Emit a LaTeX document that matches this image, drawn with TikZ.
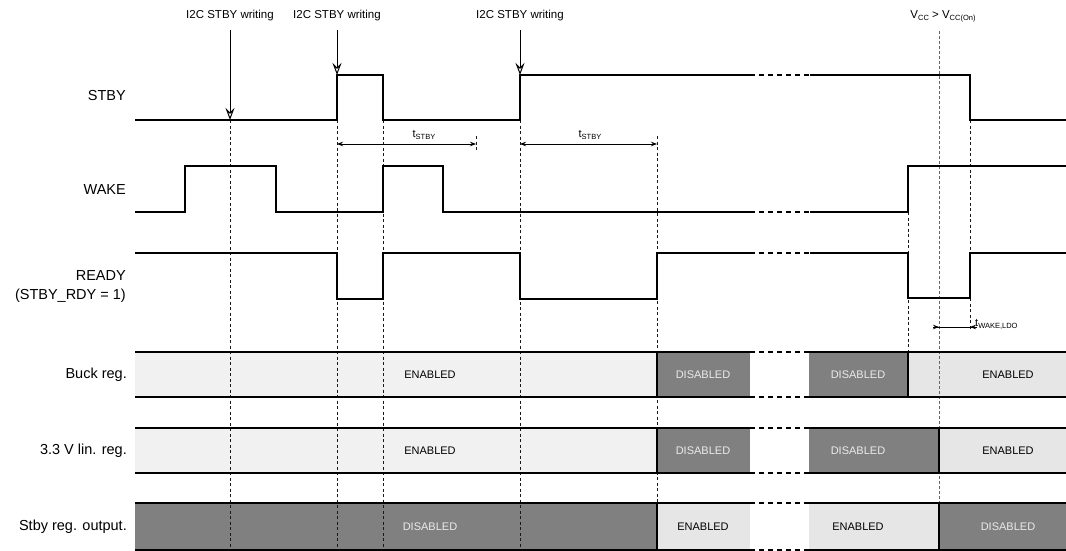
\documentclass[tikz,border=0pt]{standalone}
\usepackage{fontspec}
\setmainfont{Liberation Sans}
\usetikzlibrary{arrows.meta}
\definecolor{darkfill}{HTML}{808080}
\definecolor{lightA}{HTML}{F1F1F1}
\definecolor{lightB}{HTML}{E6E6E6}
\definecolor{distxt}{HTML}{EBEBEB}
\newcommand\mysub[1]{\raisebox{-0.35ex}{\fontsize{7.5}{8}\selectfont #1}}
\begin{document}
\begin{tikzpicture}[x=1pt,y=-1pt,
  sig/.style={line width=1.6pt, line join=miter},
  brk/.style={line width=1.6pt, dash pattern=on 5pt off 4pt},
  barline/.style={line width=1.5pt},
  barbrk/.style={line width=1.5pt, dash pattern=on 5pt off 4pt},
  guide/.style={line width=0.85pt, dash pattern=on 3pt off 2.5pt, black!90},
  vguide/.style={line width=0.9pt, dash pattern=on 3pt off 2pt, black!60},
  lab/.style={font=\fontsize{14.5}{19}\selectfont, anchor=east, align=right, inner sep=0},
  toplab/.style={font=\fontsize{11.5}{13}\selectfont, inner sep=0},
  entxt/.style={font=\fontsize{11}{13}\selectfont, inner sep=0, text=black},
  distext/.style={font=\fontsize{11}{13}\selectfont, inner sep=0, text=distxt},
  tlab/.style={font=\fontsize{11}{13}\selectfont, inner sep=0},
  i2c/.style={line width=0.8pt, -{Stealth[open, length=12pt, width=9pt, inset=4.5pt, line width=1pt]}},
  dim/.style={line width=0.8pt, {Stealth[length=6pt, width=4.5pt]}-{Stealth[length=6pt, width=4.5pt]}}
]
\useasboundingbox (0,0) rectangle (1066,551);

% ---------- regulator bars ----------
% Buck reg.
\fill[lightA] (135,352) rectangle (657,397);
\fill[darkfill] (657,352) rectangle (750,397);
\fill[darkfill] (809,352) rectangle (908,397);
\fill[lightB] (908,352) rectangle (1066,397);
% 3.3 V lin. reg.
\fill[lightA] (135,428) rectangle (657,473);
\fill[darkfill] (657,428) rectangle (750,473);
\fill[darkfill] (809,428) rectangle (939,473);
\fill[lightB] (939,428) rectangle (1066,473);
% Stby reg. output
\fill[darkfill] (135,503) rectangle (657,550);
\fill[lightB] (657,503) rectangle (750,550);
\fill[lightB] (809,503) rectangle (939,550);
\fill[darkfill] (939,503) rectangle (1066,550);

% ---------- guides ----------
\coordinate (g1t) at (230,120); \coordinate (g1b) at (230,550);
\coordinate (g2t) at (337,120); \coordinate (g2b) at (337,550);
\coordinate (g3t) at (383,120); \coordinate (g3b) at (383,550);
\coordinate (g4t) at (520,120); \coordinate (g4b) at (520,550);
\coordinate (g5t) at (657,136); \coordinate (g5b) at (657,550);
\coordinate (g6t) at (908,212); \coordinate (g6b) at (908,352);
\coordinate (g7t) at (939,31);  \coordinate (g7b) at (939,550);
\coordinate (g8t) at (970,120); \coordinate (g8b) at (970,253);
\coordinate (g9t) at (970,298); \coordinate (g9b) at (970,330);
\coordinate (g10t) at (476,136); \coordinate (g10b) at (476,152);
\draw[guide] (g1t) -- (g1b);
\draw[guide] (g2t) -- (g2b);
\draw[guide] (g3t) -- (g3b);
\draw[guide] (g4t) -- (g4b);
\draw[guide] (g5t) -- (g5b);
\draw[guide] (g6t) -- (g6b);
\draw[vguide] (g7t) -- (g7b);
\draw[guide] (g8t) -- (g8b);
\draw[guide] (g9t) -- (g9b);
\draw[guide] (g10t) -- (g10b);

% ---------- bar outlines ----------
\foreach \t/\b in {352/397, 428/473, 503/550}{
  \draw[barline] (135,\t) -- (750,\t) (809,\t) -- (1066,\t);
  \draw[barline] (135,\b) -- (750,\b) (809,\b) -- (1066,\b);
  \draw[barbrk] (750,\t) -- (809,\t);
  \draw[barbrk] (750,\b) -- (809,\b);
  \draw[barline] (657,\t) -- (657,\b);
}
\draw[barline] (908,352) -- (908,397);
\draw[barline] (939,428) -- (939,473);
\draw[barline] (939,503) -- (939,550);

% bar texts
\node[entxt] (b1) at (430,375) {ENABLED};
\node[distext] (b2) at (703,375) {DISABLED};
\node[distext] (b3) at (858,375) {DISABLED};
\node[entxt] (b4) at (1008,375) {ENABLED};
\node[entxt] (l1) at (430,451) {ENABLED};
\node[distext] (l2) at (703,451) {DISABLED};
\node[distext] (l3) at (858,451) {DISABLED};
\node[entxt] (l4) at (1008,451) {ENABLED};
\node[distext] (s1) at (430,527) {DISABLED};
\node[entxt] (s2) at (703,527) {ENABLED};
\node[entxt] (s3) at (858,527) {ENABLED};
\node[distext] (s4) at (1008,527) {DISABLED};

% ---------- waveforms ----------
% STBY
\draw[sig] (135,120) -- (337,120) -- (337,75) -- (383,75) -- (383,120) -- (520,120) -- (520,75) -- (750,75);
\draw[brk] (750,75) -- (810,75);
\draw[sig] (810,75) -- (970,75) -- (970,120) -- (1066,120);
% WAKE
\draw[sig] (135,212) -- (185,212) -- (185,166) -- (276,166) -- (276,212) -- (383,212) -- (383,166) -- (443,166) -- (443,212) -- (750,212);
\draw[brk] (750,212) -- (810,212);
\draw[sig] (810,212) -- (908,212) -- (908,166) -- (1066,166);
% READY
\draw[sig] (135,253) -- (337,253) -- (337,299) -- (383,299) -- (383,253) -- (520,253) -- (520,299) -- (657,299) -- (657,253) -- (750,253);
\draw[brk] (750,253) -- (810,253);
\draw[sig] (810,253) -- (908,253) -- (908,298) -- (970,298) -- (970,253) -- (1066,253);

% ---------- signal labels ----------
\node[lab] (Lstby) at (126,96) {STBY};
\node[lab] (Lwake) at (126,190) {WAKE};
\node[lab] (Lready) at (126,287) {READY\\(STBY\_RDY = 1)};
\node[lab] (Lbuck) at (127,375) {Buck reg.};
\node[lab] (Llin) at (127,451) {3.3 V lin. reg.};
\node[lab] (Lsby) at (127,527) {Stby reg. output.};

% ---------- I2C writing arrows ----------
\node[toplab] (w1) at (230,16) {I2C STBY writing};
\node[toplab] (w2) at (337,16) {I2C STBY writing};
\node[toplab] (w3) at (520,16) {I2C STBY writing};
\coordinate (a1s) at (230,30); \coordinate (a1e) at (230,120);
\coordinate (a2s) at (337,30); \coordinate (a2e) at (337,75);
\coordinate (a3s) at (520,30); \coordinate (a3e) at (520,75);
\draw[i2c] (a1s) -- (a1e);
\draw[i2c] (a2s) -- (a2e);
\draw[i2c] (a3s) -- (a3e);

\node[toplab] (vcc) at (943,16) {V\mysub{CC} > V\mysub{CC(On)}};

% ---------- timing dimensions ----------
\coordinate (d1a) at (337,144); \coordinate (d1b) at (476,144);
\coordinate (d2a) at (520,144); \coordinate (d2b) at (657,144);
\draw[dim] (d1a) -- (d1b);
\draw[dim] (d2a) -- (d2b);
\node[tlab] (t1) at (424,135) {t\mysub{STBY}};
\node[tlab] (t2) at (590,135) {t\mysub{STBY}};

\coordinate (w0) at (933,327); \coordinate (wa) at (939,327);
\coordinate (wb) at (970,327); \coordinate (wc) at (977,327);
\draw[line width=0.8pt] (w0) -- (wc);
\draw[line width=0.8pt, -{Stealth[length=6pt, width=4.5pt]}] (w0) -- (wa);
\draw[line width=0.8pt, -{Stealth[length=6pt, width=4.5pt]}] (wc) -- (wb);
\node[tlab, anchor=west] (t3) at (975,324) {t\mysub{WAKE,LDO}};
\end{tikzpicture}
\end{document}
